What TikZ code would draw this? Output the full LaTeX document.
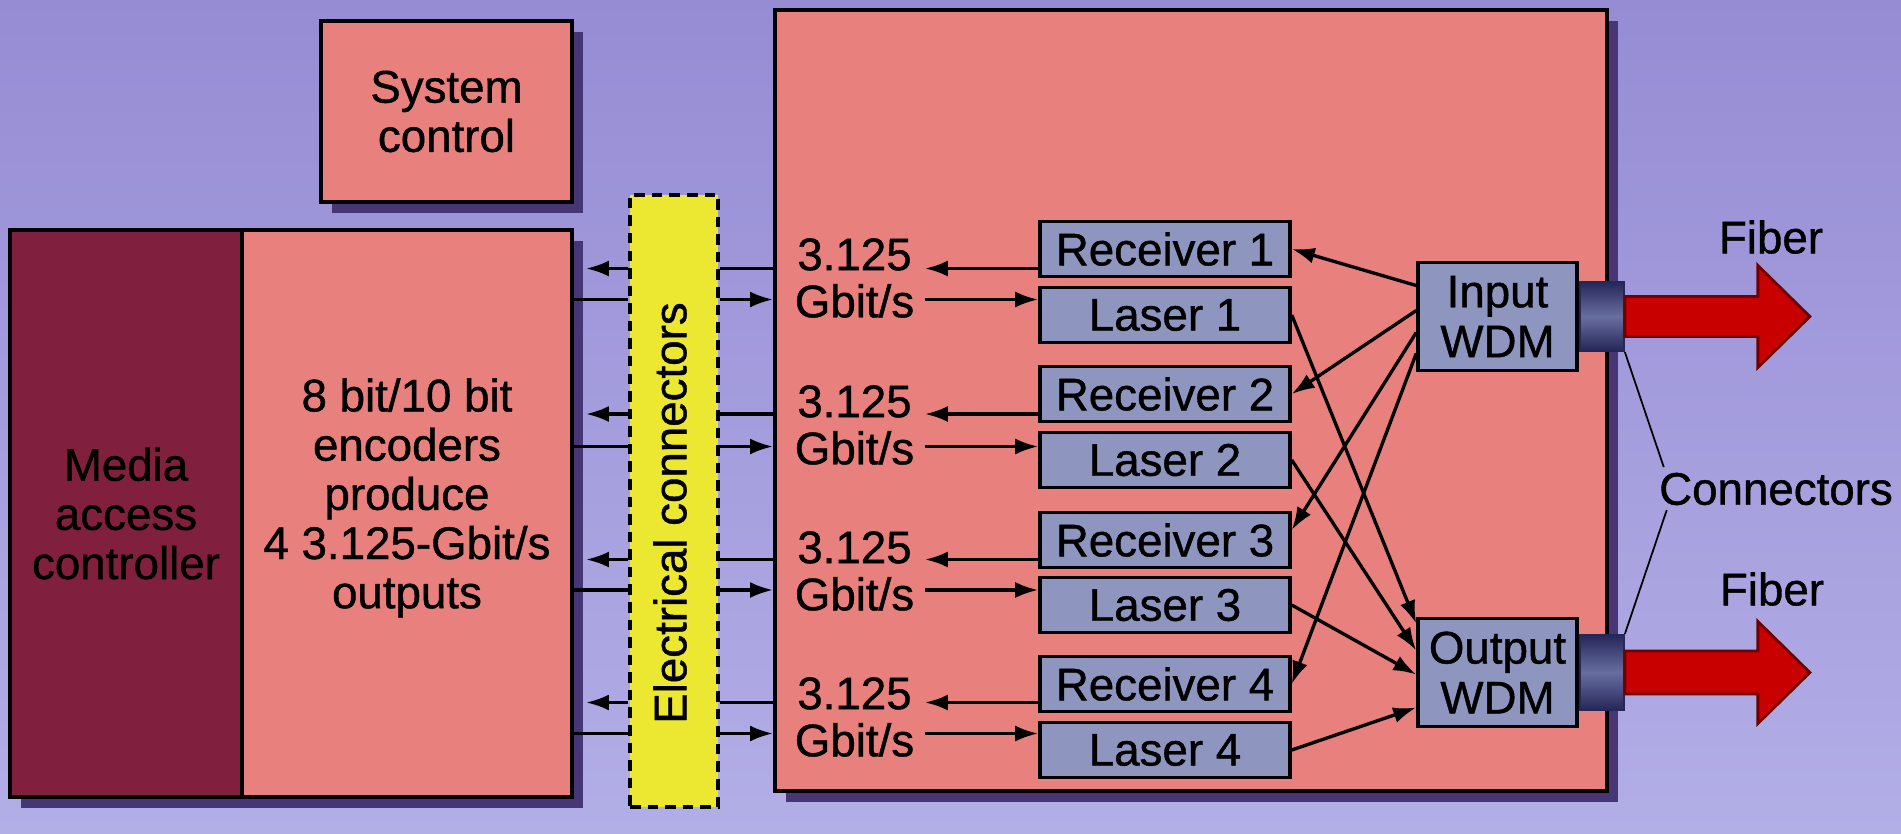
\documentclass[tikz,border=0pt]{standalone}
\usepackage{fontspec}
\setmainfont{Liberation Sans}[FakeBold=0.9]
\usetikzlibrary{shadows, arrows.meta, positioning, calc}

\definecolor{bgtop}{RGB}{150,140,212}
\definecolor{bgbot}{RGB}{178,174,230}
\definecolor{salmon}{RGB}{232,128,126}
\definecolor{macred}{RGB}{128,32,62}
\definecolor{elecyellow}{RGB}{236,232,50}
\definecolor{devblue}{RGB}{142,150,192}
\definecolor{shade}{RGB}{70,54,118}
\definecolor{fiberred}{RGB}{200,0,0}
\definecolor{fiberdark}{RGB}{110,0,0}
\definecolor{plugdark}{RGB}{38,38,88}
\definecolor{plughi}{RGB}{104,110,160}

\begin{document}
\begin{tikzpicture}[
    font=\fontsize{13}{14}\selectfont,
    block/.style={draw, line width=1.1pt, fill=salmon, inner sep=0pt, align=center,
        drop shadow={shadow xshift=0.11cm, shadow yshift=-0.11cm, fill=shade, opacity=1}},
    device/.style={draw, line width=1pt, fill=devblue, minimum width=2.5cm, minimum height=0.55cm, inner sep=0pt},
    wdm/.style={draw, line width=1pt, fill=devblue, minimum width=1.59cm, minimum height=1.08cm, inner sep=0pt, align=center, font=\fontsize{13}{14.2}\selectfont},
    plugbox/.style={draw=plugdark, line width=0.6pt, top color=plugdark, bottom color=plugdark, middle color=plughi, minimum width=0.44cm, inner sep=0pt},
    rate/.style={align=center, inner sep=0.1cm, font=\fontsize{13}{13.4}\selectfont},
    sig/.style={line width=0.95pt, -{Latex[length=2.3mm, width=1.6mm]}},
    wire/.style={line width=0.95pt},
    fiber/.style={draw=fiberdark, line width=0.8pt, fill=fiberred},
    leader/.style={line width=0.5pt}
]

% Background
\fill[top color=bgtop, bottom color=bgbot] (0,0) rectangle (19.01,-8.33);
\useasboundingbox (0,0) rectangle (19.01,-8.33);

% Left side
\node[block, minimum width=2.51cm, minimum height=1.81cm] (sysctl) at (4.465,-1.115) {System\\control};
\node[block, fill=macred, minimum width=2.32cm, minimum height=5.67cm] (mac) at (1.26,-5.135) {Media\\access\\controller};
\node[block, minimum width=3.30cm, minimum height=5.67cm] (enc) at (4.07,-5.135) {};
\node[align=center] (enctext) at (4.07,-4.98) {8 bit/10 bit\\encoders\\produce\\4 3.125-Gbit/s\\outputs};

% Electrical connectors
\node[draw, dash pattern=on 3pt off 2pt, line width=0.9pt, fill=elecyellow, minimum width=0.88cm, minimum height=6.12cm] (elec) at (6.74,-5.01) {};
\node[rotate=90] (eleclabel) at (6.70,-5.13) {Electrical connectors};

% Transceiver board
\node[block, minimum width=8.32cm, minimum height=7.81cm] (board) at (11.91,-4.005) {};

\node[device] (rx1) at (11.65,-2.49) {Receiver 1};
\node[device] (las1) at (11.65,-3.15) {Laser 1};
\node[device] (rx2) at (11.65,-3.94) {Receiver 2};
\node[device] (las2) at (11.65,-4.60) {Laser 2};
\node[device] (rx3) at (11.65,-5.40) {Receiver 3};
\node[device] (las3) at (11.65,-6.05) {Laser 3};
\node[device] (rx4) at (11.65,-6.84) {Receiver 4};
\node[device] (las4) at (11.65,-7.50) {Laser 4};

\node[rate] (rate1) at (8.545,-2.78) {3.125\\Gbit/s};
\node[rate] (rate2) at (8.545,-4.25) {3.125\\Gbit/s};
\node[rate] (rate3) at (8.545,-5.71) {3.125\\Gbit/s};
\node[rate] (rate4) at (8.545,-7.17) {3.125\\Gbit/s};

\node[wdm] (inwdm) at (14.975,-3.165) {Input\\WDM};
\node[wdm] (outwdm) at (14.975,-6.725) {Output\\WDM};

% Optical connectors and fibers
\node[plugbox, minimum height=0.69cm, anchor=west] (plugin) at (inwdm.east) {};
\node[plugbox, minimum height=0.75cm, anchor=west] (plugout) at (outwdm.east) {};

\draw[fiber] (plugin.east) ++(0,0.2) -- ++(1.33,0) -- ++(0,0.31) -- ++(0.52,-0.51) -- ++(-0.52,-0.51) -- ++(0,0.31) -- ++(-1.33,0) -- cycle;
\draw[fiber] (plugout.east) ++(0,0.215) -- ++(1.33,0) -- ++(0,0.295) -- ++(0.52,-0.51) -- ++(-0.52,-0.51) -- ++(0,0.295) -- ++(-1.33,0) -- cycle;

\node (fiber1) at (17.71,-2.37) {Fiber};
\node (fiber2) at (17.72,-5.89) {Fiber};
\node (conlabel) at (17.76,-4.89) {Connectors};

\draw[leader] ($(conlabel.west)+(0.17,0.22)$) -- (plugin.south east);
\draw[leader] ($(conlabel.west)+(0.2,-0.21)$) -- (plugout.north east);

% Lanes between encoder and board
\draw[sig, shorten >=0.12cm] (elec.west |- 0,-2.685) -- (enc.east |- 0,-2.685);
\draw[wire] (enc.east |- 0,-2.995) -- (elec.west |- 0,-2.995);
\draw[wire] (board.west |- 0,-2.685) -- (elec.east |- 0,-2.685);
\draw[sig] (elec.east |- 0,-2.995) -- (board.west |- 0,-2.995);

\draw[sig, shorten >=0.12cm] (elec.west |- 0,-4.14) -- (enc.east |- 0,-4.14);
\draw[wire] (enc.east |- 0,-4.465) -- (elec.west |- 0,-4.465);
\draw[wire] (board.west |- 0,-4.14) -- (elec.east |- 0,-4.14);
\draw[sig] (elec.east |- 0,-4.465) -- (board.west |- 0,-4.465);

\draw[sig, shorten >=0.12cm] (elec.west |- 0,-5.595) -- (enc.east |- 0,-5.595);
\draw[wire] (enc.east |- 0,-5.90) -- (elec.west |- 0,-5.90);
\draw[wire] (board.west |- 0,-5.595) -- (elec.east |- 0,-5.595);
\draw[sig] (elec.east |- 0,-5.90) -- (board.west |- 0,-5.90);

\draw[sig, shorten >=0.12cm] (elec.west |- 0,-7.025) -- (enc.east |- 0,-7.025);
\draw[wire] (enc.east |- 0,-7.335) -- (elec.west |- 0,-7.335);
\draw[wire] (board.west |- 0,-7.025) -- (elec.east |- 0,-7.025);
\draw[sig] (elec.east |- 0,-7.335) -- (board.west |- 0,-7.335);

% Lanes inside the board
\draw[sig] (rx1.west |- 0,-2.685) -- (rate1.east |- 0,-2.685);
\draw[sig] (rate1.east |- 0,-2.995) -- (las1.west |- 0,-2.995);
\draw[sig] (rx2.west |- 0,-4.14) -- (rate2.east |- 0,-4.14);
\draw[sig] (rate2.east |- 0,-4.465) -- (las2.west |- 0,-4.465);
\draw[sig] (rx3.west |- 0,-5.595) -- (rate3.east |- 0,-5.595);
\draw[sig] (rate3.east |- 0,-5.90) -- (las3.west |- 0,-5.90);
\draw[sig] (rx4.west |- 0,-7.025) -- (rate4.east |- 0,-7.025);
\draw[sig] (rate4.east |- 0,-7.335) -- (las4.west |- 0,-7.335);

% WDM fan-out
\draw[sig] ($(inwdm.west)+(0,0.31)$) -- (rx1.east);
\draw[sig] ($(inwdm.west)+(0,0.06)$) -- (rx2.east);
\draw[sig] ($(inwdm.west)+(0,-0.16)$) -- ($(rx3.east)+(0,0.1)$);
\draw[sig] ($(inwdm.west)+(0,-0.37)$) -- (rx4.east);

\draw[sig] (las1.east) -- ($(outwdm.west)+(0,0.49)$);
\draw[sig] (las2.east) -- ($(outwdm.west)+(0,0.22)$);
\draw[sig] (las3.east) -- ($(outwdm.west)+(0,-0.02)$);
\draw[sig] (las4.east) -- ($(outwdm.west)+(0,-0.35)$);

\end{tikzpicture}
\end{document}
